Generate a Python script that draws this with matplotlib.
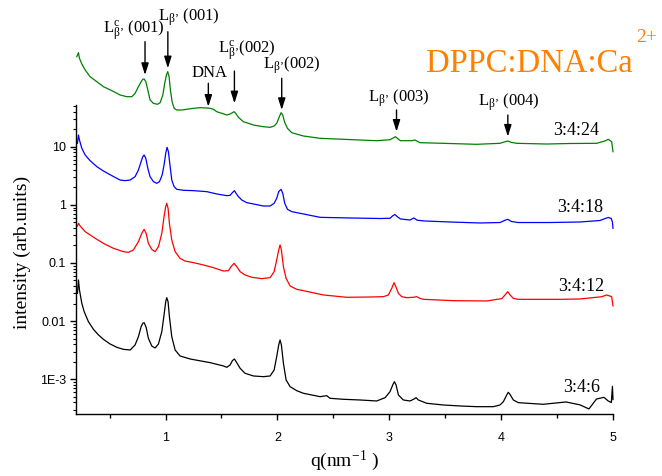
import numpy as np
import matplotlib
matplotlib.use('Agg')
import matplotlib.pyplot as plt
from matplotlib.ticker import FixedLocator, NullFormatter, MultipleLocator

plt.rcParams['mathtext.fontset'] = 'custom'
plt.rcParams['mathtext.rm'] = 'Liberation Serif'
plt.rcParams['mathtext.it'] = 'Liberation Serif:italic'
plt.rcParams['mathtext.bf'] = 'Liberation Serif:bold'

# ---------------- data (q in nm^-1, intensity given as log10 values)
q_green = [0.207, 0.222, 0.231, 0.252, 0.282, 0.326, 0.386, 0.445, 0.520, 0.594, 0.654, 0.699,
           0.728, 0.758, 0.782, 0.797, 0.809, 0.824, 0.842, 0.862, 0.892, 0.928, 0.952, 0.976,
           0.993, 1.008, 1.020, 1.032, 1.044, 1.059, 1.077, 1.101, 1.145, 1.190, 1.250, 1.309,
           1.369, 1.399, 1.428, 1.458, 1.503, 1.548, 1.577, 1.598, 1.613, 1.628, 1.652, 1.696,
           1.786, 1.875, 1.935, 1.971, 1.994, 2.012, 2.033, 2.048, 2.066, 2.090, 2.128, 2.233,
           2.382, 2.590, 2.888, 3.007, 3.035, 3.055, 3.075, 3.100, 3.200, 3.230, 3.275, 3.483,
           3.782, 3.990, 4.035, 4.060, 4.090, 4.139, 4.407, 4.616, 4.854, 4.930, 4.958, 4.988,
           5.000]
log_green = [2.548, 2.617, 2.520, 2.422, 2.319, 2.204, 2.118, 2.032, 1.964, 1.889, 1.860, 1.860,
             1.918, 2.032, 2.118, 2.159, 2.164, 2.118, 1.975, 1.803, 1.746, 1.729, 1.757, 1.889,
             2.090, 2.233, 2.290, 2.204, 1.975, 1.774, 1.660, 1.631, 1.631, 1.643, 1.660, 1.671,
             1.666, 1.660, 1.643, 1.602, 1.574, 1.545, 1.562, 1.585, 1.602, 1.574, 1.505, 1.430,
             1.373, 1.344, 1.333, 1.356, 1.402, 1.488, 1.585, 1.545, 1.413, 1.316, 1.241, 1.184,
             1.144, 1.127, 1.103, 1.120, 1.150, 1.172, 1.140, 1.103, 1.103, 1.115, 1.069, 1.058,
             1.041, 1.058, 1.085, 1.098, 1.075, 1.058, 1.046, 1.055, 1.058, 1.100, 1.127, 1.086,
             0.914]

q_blue = [0.213, 0.222, 0.231, 0.252, 0.282, 0.326, 0.386, 0.445, 0.520, 0.594, 0.639, 0.684,
          0.728, 0.758, 0.782, 0.797, 0.809, 0.824, 0.842, 0.862, 0.892, 0.922, 0.946, 0.970,
          0.987, 1.002, 1.014, 1.026, 1.038, 1.056, 1.077, 1.101, 1.160, 1.250, 1.369, 1.458,
          1.548, 1.577, 1.598, 1.616, 1.631, 1.652, 1.682, 1.726, 1.786, 1.875, 1.935, 1.971,
          1.994, 2.012, 2.033, 2.048, 2.066, 2.090, 2.128, 2.233, 2.382, 2.650, 2.918, 3.007,
          3.030, 3.050, 3.070, 3.100, 3.186, 3.220, 3.250, 3.320, 3.543, 3.812, 3.990, 4.035,
          4.060, 4.090, 4.151, 4.437, 4.705, 4.884, 4.930, 4.958, 4.985, 4.995, 5.000]
log_blue = [1.058, 1.201, 1.115, 0.972, 0.857, 0.760, 0.657, 0.582, 0.502, 0.427, 0.416, 0.427,
            0.485, 0.599, 0.743, 0.829, 0.857, 0.800, 0.628, 0.485, 0.399, 0.370, 0.399, 0.513,
            0.685, 0.886, 0.989, 0.915, 0.714, 0.427, 0.313, 0.267, 0.250, 0.244, 0.227, 0.187,
            0.158, 0.164, 0.209, 0.244, 0.198, 0.141, 0.083, 0.038, 0.015, -0.020, -0.020, 0.026,
            0.112, 0.227, 0.267, 0.198, 0.026, -0.077, -0.117, -0.157, -0.215, -0.226, -0.235, -0.231,
            -0.190, -0.166, -0.200, -0.243, -0.261, -0.226, -0.265, -0.278, -0.295, -0.312, -0.304, -0.265,
            -0.249, -0.285, -0.304, -0.304, -0.295, -0.269, -0.235, -0.217, -0.235, -0.300, -0.403]

q_red = [0.213, 0.222, 0.237, 0.282, 0.326, 0.386, 0.445, 0.535, 0.624, 0.669, 0.713, 0.758,
         0.788, 0.809, 0.827, 0.847, 0.877, 0.907, 0.937, 0.967, 0.987, 1.002, 1.011, 1.023,
         1.035, 1.056, 1.086, 1.130, 1.175, 1.250, 1.339, 1.428, 1.518, 1.562, 1.586, 1.613,
         1.637, 1.667, 1.711, 1.771, 1.860, 1.935, 1.971, 1.994, 2.012, 2.024, 2.036, 2.054,
         2.078, 2.114, 2.173, 2.233, 2.412, 2.620, 2.829, 2.948, 2.992, 3.022, 3.043, 3.061,
         3.082, 3.111, 3.156, 3.216, 3.245, 3.275, 3.305, 3.573, 3.871, 4.005, 4.035, 4.059,
         4.080, 4.109, 4.154, 4.318, 4.526, 4.705, 4.900, 4.943, 4.988, 5.000]
log_red = [-0.364, -0.318, -0.364, -0.461, -0.518, -0.593, -0.662, -0.748, -0.805, -0.817, -0.776, -0.633,
           -0.490, -0.421, -0.490, -0.662, -0.765, -0.805, -0.719, -0.490, -0.203, -0.031, 0.026, -0.060,
           -0.318, -0.604, -0.805, -0.920, -0.966, -0.994, -1.034, -1.080, -1.138, -1.132, -1.063, -1.006,
           -1.063, -1.149, -1.206, -1.246, -1.269, -1.252, -1.149, -0.948, -0.776, -0.690, -0.776, -1.063,
           -1.264, -1.396, -1.453, -1.476, -1.550, -1.590, -1.585, -1.579, -1.550, -1.436, -1.338, -1.418,
           -1.522, -1.579, -1.596, -1.590, -1.579, -1.608, -1.625, -1.648, -1.653, -1.613, -1.550, -1.493,
           -1.550, -1.608, -1.625, -1.625, -1.625, -1.619, -1.580, -1.550, -1.579, -1.739]

q_black = [0.213, 0.222, 0.231, 0.252, 0.273, 0.311, 0.356, 0.401, 0.445, 0.505, 0.565, 0.624,
           0.684, 0.728, 0.758, 0.782, 0.797, 0.809, 0.827, 0.847, 0.877, 0.907, 0.937, 0.967,
           0.987, 1.002, 1.011, 1.023, 1.035, 1.056, 1.086, 1.130, 1.220, 1.399, 1.518, 1.548,
           1.577, 1.598, 1.616, 1.637, 1.667, 1.711, 1.786, 1.875, 1.935, 1.971, 1.994, 2.012,
           2.024, 2.036, 2.054, 2.078, 2.114, 2.173, 2.233, 2.382, 2.441, 2.471, 2.590, 2.739,
           2.888, 2.963, 3.007, 3.031, 3.046, 3.061, 3.082, 3.126, 3.186, 3.222, 3.240, 3.260,
           3.335, 3.484, 3.633, 3.782, 3.930, 3.990, 4.020, 4.050, 4.064, 4.079, 4.109, 4.154,
           4.377, 4.580, 4.705, 4.785, 4.852, 4.919, 4.955, 4.985, 4.995, 5.000]
log_black = [-1.522, -1.292, -1.464, -1.694, -1.837, -2.009, -2.141, -2.238, -2.313, -2.393, -2.450, -2.485,
             -2.496, -2.410, -2.267, -2.095, -2.037, -2.026, -2.106, -2.295, -2.427, -2.462, -2.393, -2.181,
             -1.894, -1.665, -1.596, -1.665, -1.923, -2.267, -2.496, -2.599, -2.651, -2.714, -2.771, -2.794,
             -2.754, -2.680, -2.651, -2.714, -2.811, -2.897, -2.943, -2.955, -2.943, -2.840, -2.611, -2.410,
             -2.324, -2.410, -2.725, -3.012, -3.127, -3.196, -3.241, -3.299, -3.282, -3.327, -3.344, -3.356,
             -3.373, -3.316, -3.213, -3.098, -3.041, -3.098, -3.270, -3.356, -3.373, -3.339, -3.316, -3.356,
             -3.413, -3.442, -3.459, -3.471, -3.471, -3.442, -3.385, -3.270, -3.224, -3.258, -3.356, -3.402,
             -3.430, -3.390, -3.440, -3.510, -3.340, -3.310, -3.370, -3.400, -3.120, -3.350]

series_labels = ['3:4:24', '3:4:18', '3:4:12', '3:4:6']
series_colors = ['#008000', '#0000ff', '#ff0000', '#000000']

y_tick_values = [1e-3, 1e-2, 1e-1, 1, 10]
y_tick_labels = ['1E-3', '0.01', '0.1', '1', '10']
x_tick_values = [1, 2, 3, 4, 5]

# peak annotations: (label, q of arrow, arrow tip intensity, arrow tail intensity)
peak_labels = [r'$\mathrm{L^{c}_{β’}\ (001)}$', r'$\mathrm{L_{β’}\ (001)}$', 'DNA',
               r'$\mathrm{L^{c}_{β’}(002)}$', r'$\mathrm{L_{β’}(002)}$',
               r'$\mathrm{L_{β’}\ (003)}$', r'$\mathrm{L_{β’}\ (004)}$']
arrow_q = [0.817, 1.021, 1.383, 1.616, 2.039, 3.065, 4.060]
arrow_tip = [171, 223, 48.7, 55.7, 42.8, 18.1, 14.9]
arrow_tail = [640, 949, 123, 200, 150, 42.8, 35.1]

# ---------------- figure
W, H = 662, 476
fig = plt.figure(figsize=(W / 100, H / 100), dpi=100)
ax = fig.add_axes([76 / W, (H - 414) / H, (613 - 76) / W, (414 - 105) / H])

def fxy(x, y):
    return x / W, 1 - y / H

serif = 'Liberation Serif'
sans = 'Liberation Sans'

for q, lg, c in zip([q_green, q_blue, q_red, q_black],
                    [log_green, log_blue, log_red, log_black], series_colors):
    ax.plot(q, 10 ** np.asarray(lg), color=c, lw=0.9, clip_on=False)

ax.set_yscale('log')
ax.set_xlim(0.2, 5.0)
ax.set_ylim(10 ** -3.597, 10 ** 1.717)

for s in ['top', 'right']:
    ax.spines[s].set_visible(False)
for s in ['left', 'bottom']:
    ax.spines[s].set_linewidth(1.0)

ax.set_xticks(x_tick_values)
ax.set_xticklabels([str(v) for v in x_tick_values], fontfamily=sans, fontsize=9)
ax.xaxis.set_minor_locator(MultipleLocator(0.5))
ax.set_yticks(y_tick_values)
ax.set_yticklabels(y_tick_labels, fontfamily=sans, fontsize=9)
minor = [m * 10.0 ** e for e in range(-4, 2) for m in range(2, 10)]
ax.yaxis.set_minor_locator(FixedLocator(minor))
ax.yaxis.set_minor_formatter(NullFormatter())
ax.tick_params(axis='x', which='major', direction='out', length=4, width=1, pad=9)
ax.tick_params(axis='x', which='minor', direction='out', length=3, width=1)
ax.tick_params(axis='y', which='major', direction='out', length=4.5, width=1, pad=2.5)
ax.tick_params(axis='y', which='minor', direction='out', length=2.5, width=0.8)

# axis labels
fig.text(*fxy(22, 252), 'intensity (arb.units)', rotation=90, ha='center', va='center',
         fontfamily=serif, fontsize=14)
fig.text(*fxy(344, 466), r'q(nm$^{\mathrm{-1}}$ )', ha='center', va='baseline',
         fontfamily=serif, fontsize=14)

# series labels
label_pos = [(553, 135), (557, 212), (558, 291), (563, 392)]
for txt, (x, y) in zip(series_labels, label_pos):
    fig.text(*fxy(x, y), txt, ha='left', va='baseline', fontfamily=serif, fontsize=13)

# title
fig.text(*fxy(426, 72), 'DPPC:DNA:Ca', ha='left', va='baseline', fontfamily=serif,
         fontsize=23.5, color='#ff8000')
fig.text(*fxy(636, 42), '2+', ha='left', va='baseline', fontfamily=serif,
         fontsize=14, color='#ff8000')

# peak annotations
text_pos = [(103, 34), (158, 21), (192, 77), (218, 54), (263, 69), (368, 102), (478, 106)]
for lab, (x, y) in zip(peak_labels, text_pos):
    fig.text(*fxy(x, y), lab, ha='left', va='baseline', fontfamily=serif, fontsize=12)
for q, tip, tail in zip(arrow_q, arrow_tip, arrow_tail):
    ax.annotate('', xy=(q, tip), xytext=(q, tail), annotation_clip=False,
                arrowprops=dict(arrowstyle='-|>,head_length=0.7,head_width=0.22',
                                color='k', lw=1.0, mutation_scale=10, shrinkA=0, shrinkB=0))

fig.savefig('out.png', dpi=100)
